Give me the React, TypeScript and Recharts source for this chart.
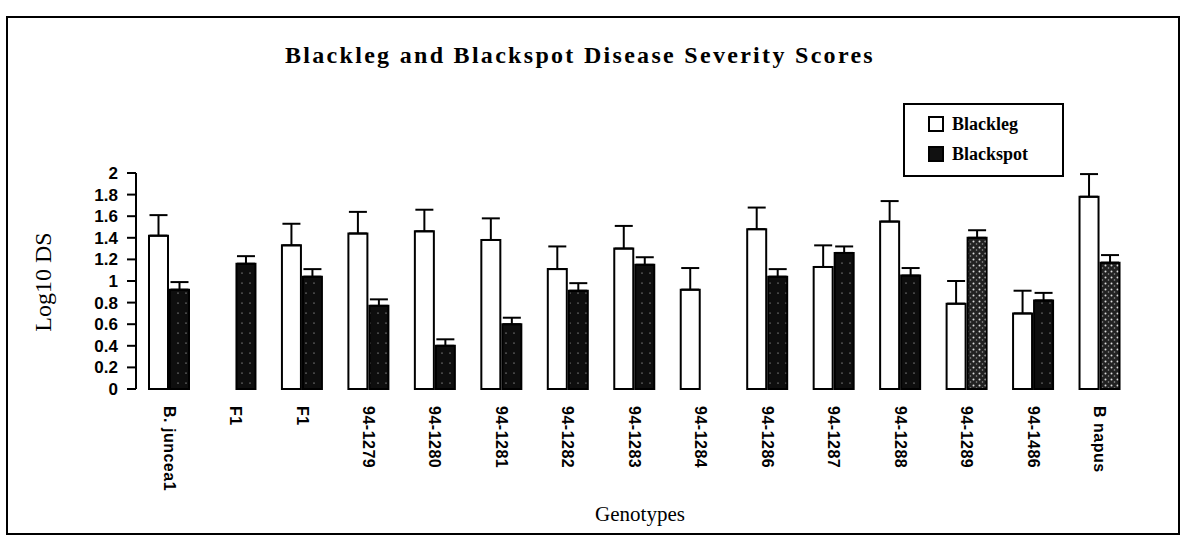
import React from 'react'
import { BarChart, Bar, XAxis, YAxis, ErrorBar, Legend, Cell } from 'recharts'

const genotypes = [
  'B. juncea1', 'F1', 'F1', '94-1279', '94-1280', '94-1281', '94-1282', '94-1283',
  '94-1284', '94-1286', '94-1287', '94-1288', '94-1289', '94-1486', 'B napus',
]
const blacklegMeans = [1.42, null, 1.33, 1.44, 1.46, 1.38, 1.11, 1.3, 0.92, 1.48, 1.13, 1.55, 0.79, 0.7, 1.78]
const blacklegErr = [0.19, null, 0.2, 0.2, 0.2, 0.2, 0.21, 0.21, 0.2, 0.2, 0.2, 0.19, 0.21, 0.21, 0.21]
const blackspotMeans = [0.92, 1.16, 1.04, 0.77, 0.4, 0.6, 0.91, 1.15, null, 1.04, 1.26, 1.05, 1.4, 0.82, 1.17]
const blackspotErr = [0.07, 0.07, 0.07, 0.06, 0.06, 0.06, 0.07, 0.07, null, 0.07, 0.06, 0.07, 0.07, 0.07, 0.07]
const yTicks = [0, 0.2, 0.4, 0.6, 0.8, 1, 1.2, 1.4, 1.6, 1.8, 2]

// speckled look of the scanned blackspot bars, lighter on the last ones
const lightSpot = new Set(['94-1289', 'B napus'])

const data = genotypes.map((g, i) => ({
  idx: i,
  blackleg: blacklegMeans[i],
  blacklegErr: blacklegErr[i] == null ? null : [0, blacklegErr[i]],
  blackspot: blackspotMeans[i],
  blackspotErr: blackspotErr[i] == null ? null : [0, blackspotErr[i]],
}))

// Excel style ticks sit between categories
const boundaryTicks = genotypes.map((_, i) => i).concat(genotypes.length)

const serif = '"Liberation Serif", "Times New Roman", serif'
const sans = '"Liberation Sans", Arial, sans-serif'

const GenotypeTick = (props: any) => {
  const { x, y, payload } = props
  return (
    <text
      transform={`translate(${x},${y + 9}) rotate(90)`}
      dy="0.35em"
      textAnchor="start"
      fontFamily={sans}
      fontSize={16}
      fontWeight="bold"
      letterSpacing={0.5}
      fill="#000"
    >
      {genotypes[payload.value]}
    </text>
  )
}

const LegendBox = (props: any) => {
  const { payload } = props
  return (
    <div style={{ border: '2px solid #000', height: 66, paddingTop: 4, boxSizing: 'content-box' }}>
      {(payload || []).map((entry: any) => (
        <div
          key={entry.value}
          style={{ display: 'flex', alignItems: 'center', height: 30, paddingLeft: 23 }}
        >
          <span
            style={{
              display: 'inline-block',
              width: 12,
              height: 12,
              border: '2px solid #000',
              background: entry.value === 'Blackleg' ? '#fff' : '#111',
              marginRight: 8,
            }}
          />
          <span style={{ fontFamily: serif, fontWeight: 'bold', fontSize: 18, color: '#000' }}>
            {entry.value}
          </span>
        </div>
      ))}
    </div>
  )
}

export default function App() {
  return (
    <div style={{ position: 'absolute', left: 0, top: 0, width: 1183, height: 542, background: '#fff' }}>
      <div
        style={{
          position: 'absolute',
          left: 6,
          top: 16,
          width: 1170,
          height: 515,
          border: '2px solid #000',
        }}
      />
      <div
        style={{
          position: 'absolute',
          left: 0,
          width: 1160,
          top: 42,
          textAlign: 'center',
          fontFamily: serif,
          fontWeight: 'bold',
          fontSize: 24,
          letterSpacing: 2.3,
          color: '#000',
        }}
      >
        Blackleg and Blackspot Disease Severity Scores
      </div>
      <div
        style={{
          position: 'absolute',
          left: 43,
          top: 282,
          transform: 'translate(-50%, -50%) rotate(-90deg)',
          whiteSpace: 'nowrap',
          fontFamily: serif,
          fontSize: 24,
          color: '#000',
        }}
      >
        Log10 DS
      </div>
      <div
        style={{
          position: 'absolute',
          left: 640,
          top: 514,
          transform: 'translate(-50%, -50%)',
          fontFamily: serif,
          fontSize: 21,
          color: '#000',
        }}
      >
        Genotypes
      </div>
      <div style={{ position: 'absolute', left: 0, top: 0 }}>
        <BarChart
          width={1183}
          height={542}
          data={data}
          margin={{ top: 173, right: 50, bottom: 43, left: 76 }}
          barSize={19}
          barGap={2}
        >
          <defs>
            <pattern id="speckDark" patternUnits="userSpaceOnUse" width="8" height="10">
              <rect width="8" height="10" fill="#0e0e0e" />
              <circle cx="2" cy="3" r="0.6" fill="#ddd" />
            </pattern>
            <pattern id="speckLight" patternUnits="userSpaceOnUse" width="6" height="6">
              <rect width="6" height="6" fill="#222" />
              <circle cx="1.5" cy="1.5" r="1" fill="#ddd" />
              <circle cx="4.5" cy="4" r="0.8" fill="#999" />
            </pattern>
          </defs>
          <XAxis
            xAxisId="grid"
            type="number"
            domain={[0, genotypes.length]}
            ticks={boundaryTicks}
            interval={0}
            tickFormatter={() => ''}
            height={0}
            tickSize={7}
            axisLine={{ stroke: '#000', strokeWidth: 2 }}
            tickLine={{ stroke: '#000', strokeWidth: 2 }}
          />
          <XAxis
            xAxisId="cat"
            dataKey="idx"
            type="category"
            interval={0}
            axisLine={false}
            tickLine={false}
            tick={<GenotypeTick />}
            height={110}
          />
          <YAxis
            domain={[0, 2]}
            ticks={yTicks}
            interval={0}
            width={60}
            tickSize={9}
            tickMargin={9}
            axisLine={{ stroke: '#000', strokeWidth: 2 }}
            tickLine={{ stroke: '#000', strokeWidth: 2 }}
            tick={{ fill: '#000', fontFamily: sans, fontWeight: 'bold', fontSize: 17 }}
          />
          <Legend
            layout="vertical"
            align="center"
            verticalAlign="middle"
            content={<LegendBox />}
            wrapperStyle={{ left: 903, top: 103, width: 161, height: 70 }}
          />
          <Bar
            xAxisId="cat"
            dataKey="blackleg"
            name="Blackleg"
            fill="#fff"
            stroke="#000"
            strokeWidth={2}
            isAnimationActive={false}
          >
            <ErrorBar dataKey="blacklegErr" direction="y" width={9} stroke="#000" strokeWidth={2} />
          </Bar>
          <Bar
            xAxisId="cat"
            dataKey="blackspot"
            name="Blackspot"
            fill="#111"
            stroke="#000"
            strokeWidth={2}
            isAnimationActive={false}
          >
            {genotypes.map((g, i) => (
              <Cell key={i} fill={lightSpot.has(g) ? 'url(#speckLight)' : 'url(#speckDark)'} />
            ))}
            <ErrorBar dataKey="blackspotErr" direction="y" width={9} stroke="#000" strokeWidth={2} />
          </Bar>
        </BarChart>
      </div>
    </div>
  )
}
